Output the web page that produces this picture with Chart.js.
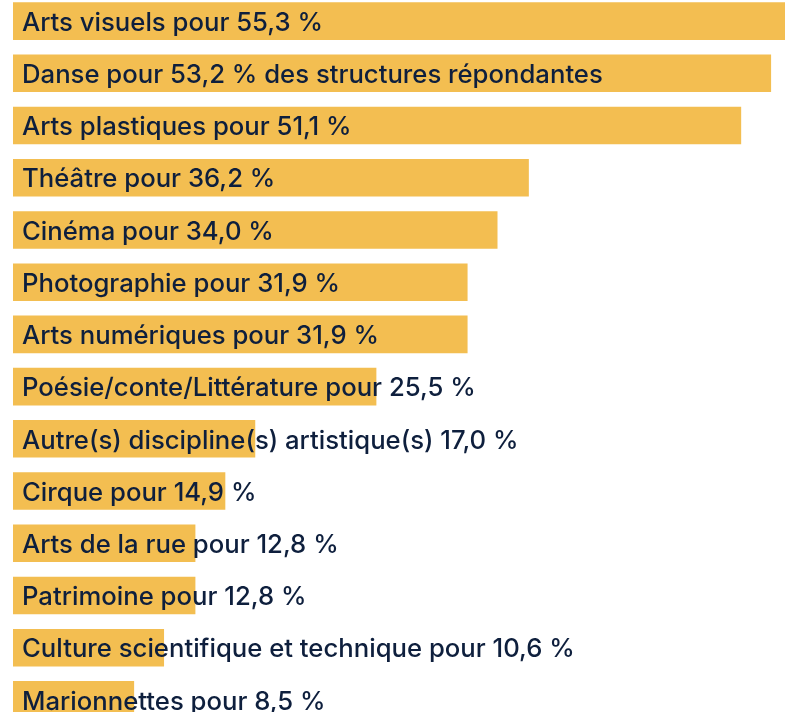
<!DOCTYPE html>
<html>
<head>
<meta charset="utf-8">
<script src="https://cdn.jsdelivr.net/npm/chart.js@4/dist/chart.umd.min.js"></script>
<style>
  html, body { margin: 0; padding: 0; background: #fff; overflow: hidden; width: 785px; height: 712px; }
  #wrap { position: absolute; left: 0; top: -5px; width: 811px; height: 731px; }
</style>
</head>
<body>
<div id="wrap"><canvas id="myChart"></canvas></div>
<script>
const labels = [
  "Arts visuels pour 55,3 %",
  "Danse pour 53,2 % des structures répondantes",
  "Arts plastiques pour 51,1 %",
  "Théâtre pour 36,2 %",
  "Cinéma pour 34,0 %",
  "Photographie pour 31,9 %",
  "Arts numériques pour 31,9 %",
  "Poésie/conte/Littérature pour 25,5 %",
  "Autre(s) discipline(s) artistique(s) 17,0 %",
  "Cirque pour 14,9 %",
  "Arts de la rue pour 12,8 %",
  "Patrimoine pour 12,8 %",
  "Culture scientifique et technique pour 10,6 %",
  "Marionnettes pour 8,5 %",
];
const values = [55.3, 53.2, 51.1, 36.2, 34.0, 31.9, 31.9, 25.5, 17.0, 14.9, 12.8, 12.8, 10.6, 8.5];

// texte posé sur chaque barre
const barLabels = {
  id: "barLabels",
  afterDatasetsDraw(chart) {
    const ctx = chart.ctx;
    const meta = chart.getDatasetMeta(0);
    ctx.save();
    ctx.font = "500 25.7px Inter";
    ctx.fillStyle = "#0e1f3d";
    ctx.textBaseline = "middle";
    ctx.textAlign = "left";
    meta.data.forEach((bar, i) => {
      ctx.fillText(chart.data.labels[i], 22, bar.y + 2);
    });
    ctx.restore();
  },
};

new Chart(document.getElementById("myChart"), {
  type: "bar",
  data: {
    labels: labels,
    datasets: [
      {
        data: values,
        backgroundColor: "#f3be51",
        borderWidth: 0,
        barPercentage: 0.72,
        categoryPercentage: 1,
      },
    ],
  },
  options: {
    indexAxis: "y",
    responsive: true,
    maintainAspectRatio: false,
    animation: false,
    layout: { padding: { left: 13, right: 0, top: 0, bottom: 0 } },
    plugins: {
      legend: { display: false },
      tooltip: { enabled: false },
    },
    scales: {
      x: { display: false, min: 0, max: 56 },
      y: { display: false },
    },
  },
  plugins: [barLabels],
});
</script>
</body>
</html>
